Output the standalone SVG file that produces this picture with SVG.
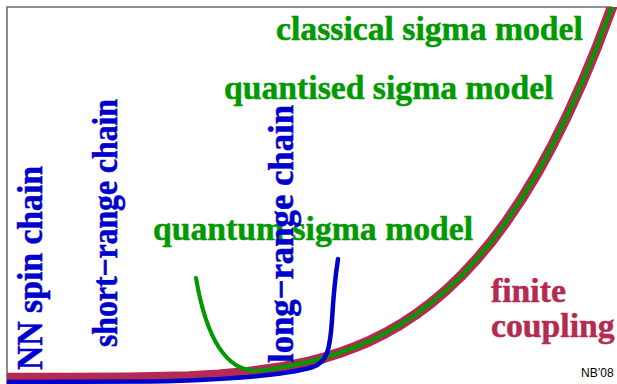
<svg xmlns="http://www.w3.org/2000/svg" width="617" height="384" viewBox="0 0 617 384">
<style>
text.t{font-family:'Liberation Serif','Times New Roman',serif;font-weight:700;font-size:33.7px;stroke-width:0.5}
.g{fill:#009900;stroke:#009900}
.b{fill:#0000cc;stroke:#0000cc}
.r{fill:#b52a50;stroke:#b52a50}
.frame{stroke:#6e6e6e;stroke-width:1.6;fill:none}
.line{fill:none;stroke-linecap:round;stroke-linejoin:round}
</style>
<defs>
<clipPath id="clip"><rect x="7" y="7" width="610" height="377"/></clipPath>
</defs>
<rect width="617" height="384" fill="#ffffff"/>
<g id="frame"><path class="frame" d="M7,384 V7 H612"/></g>
<g id="connectors" clip-path="url(#clip)">
<polyline id="finite-coupling-curve" class="line" stroke="#b52a50" stroke-width="10.5" points="0,378 67.5,378 128,377.7 188.5,376.4 218.75,374.7 249,372 279.25,367.8 309.5,361.6 324.6,357.6 339.75,352.8 354.9,347.2 370,340.8 385.1,333.3 400.25,324.6 415.4,314.7 430.5,303.5 445.6,290.7 460.75,276.3 475.9,260.2 491,242.1 506.1,221.9 521.25,199.4 536.4,174.6 551.5,147.1 566.6,116.8 581.75,83.5 596.9,47 612,7 616,-3"/>
<path id="quantum-curve" class="line" stroke="#009900" stroke-width="4.2" d="M196,278 Q212,372 258,371 L279.25,367.8 309.5,361.6 324.6,357.6 339.75,352.8 354.9,347.2 370,340.8 385.1,333.3 400.25,324.6 415.4,314.7 430.5,303.5 445.6,290.7 460.75,276.3 475.9,260.2 491,242.1 506.1,221.9 521.25,199.4 536.4,174.6 551.5,147.1 566.6,116.8 581.75,83.5 596.9,47 612,7 616,-3"/>
<path id="long-range-curve" class="line" stroke="#0000cc" stroke-width="4.5" d="M0,382 L150,381.5 C230,380 285,375 313,367 C327,362 330,350 332,320 Q334,285 338,259"/>
</g>
<g id="classical"><text class="t g" x="276" y="39.5">classical sigma model</text></g>
<g id="quantised"><text class="t g" x="224" y="99">quantised sigma model</text></g>
<g id="quantum"><text class="t g" x="153" y="240">quantum sigma model</text></g>
<g id="nn-spin"><text class="t b" transform="translate(41.5,370) rotate(-90) scale(1,1.07)" textLength="204" lengthAdjust="spacingAndGlyphs">NN spin chain</text></g>
<g id="short-range"><text class="t b" transform="translate(117,347) rotate(-90) scale(1,1.07)" textLength="248" lengthAdjust="spacingAndGlyphs">short−range chain</text></g>
<g id="long-range"><text class="t b" transform="translate(293,363) rotate(-90) scale(1,1.07)" textLength="258" lengthAdjust="spacingAndGlyphs">long−range chain</text></g>
<g id="finite"><text class="t r" x="491" y="302">finite</text><text class="t r" x="491" y="337">coupling</text></g>
<g id="signature"><text x="581" y="377" font-family="Liberation Sans, Arial, sans-serif" font-size="12" fill="#000">NB’08</text></g>
</svg>
